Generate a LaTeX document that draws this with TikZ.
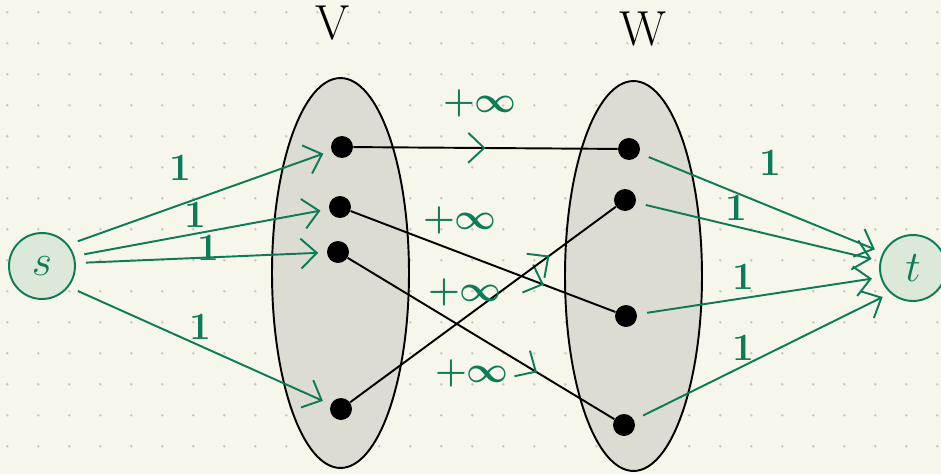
\documentclass[tikz,border=0pt]{standalone}
\usepackage{tikz}
\usetikzlibrary{arrows.meta, positioning, calc, shapes.geometric, decorations.markings}
\definecolor{paper}{HTML}{F7F6EA}
\definecolor{dotgray}{HTML}{C9C9C1}
\definecolor{setgray}{HTML}{DCDCD2}
\definecolor{ink}{HTML}{0E7A57}
\definecolor{inkfill}{HTML}{DCE8D8}
\tikzset{
    term/.style={circle, draw=ink, line width=1.1pt, fill=inkfill, minimum size=1.32cm, inner sep=0pt, text=ink, font=\fontsize{32}{32}\selectfont},
    part/.style={ellipse, draw=black, line width=1.1pt, fill=setgray, minimum width=2.74cm, minimum height=7.8cm, inner sep=0pt},
    vert/.style={circle, fill=black, inner sep=0pt, minimum size=0.44cm},
    capedge/.style={->, >={Straight Barb[length=9pt, width=17pt]}, ink, line width=1.1pt, shorten <=0.2cm, shorten >=0.17cm},
    flow/.style={line width=1.1pt, black, postaction={decorate}, decoration={markings, mark=at position #1 with {\arrow[ink, line width=1.1pt]{Straight Barb[length=9pt, width=17pt]}}}},
    wt/.style={text=ink, font=\fontsize{22}{22}\selectfont\bfseries},
    inf/.style={text=ink, font=\fontsize{21}{21}\selectfont\boldmath},
    setname/.style={font=\fontsize{28}{28}\selectfont}
}
\begin{document}
\begin{tikzpicture}[x=0.02cm, y=-0.02cm]
    \path[use as bounding box, fill=paper] (0,0) rectangle (941,474);
    \foreach \i in {0,...,30} \foreach \j in {0,...,14} \fill[dotgray] (7.3+31*\i, 12.3+31*\j) circle (0.8pt);
    \node[part] (setV) at (340.5,273) {};
    \node[part] (setW) at (633.5,276) {};
    \node[setname] (nameV) at (333,23) {V};
    \node[setname] (nameW) at (643,29) {W};
    \node[term] (s) at (42,266) {$s$};
    \node[term] (t) at (913,268) {$t$};
    \node[vert] (v1) at (342,147) {};
    \node[vert] (v2) at (340,207) {};
    \node[vert] (v3) at (338,252) {};
    \node[vert] (v4) at (341,409) {};
    \node[vert] (w1) at (629,149) {};
    \node[vert] (w2) at (625,200) {};
    \node[vert] (w3) at (626,316) {};
    \node[vert] (w4) at (624,425) {};
    \draw[flow=0.5] (v1) -- (w1);
    \draw[flow=0.73] (v2) -- (w3);
    \draw[flow=0.71] (v3) -- (w4);
    \draw[flow=0.75] (v4) -- (w2);
    \foreach \v/\a in {v1/39, v2/17, v3/5, v4/-38} \draw[capedge] (s.\a) -- (\v);
    \foreach \w/\a in {w1/153, w2/168, w3/196, w4/228} \draw[capedge] (\w) -- (t.\a);
    \node[wt] (c1) at (180,168) {1};
    \node[wt] (c2) at (195,215) {1};
    \node[wt] (c3) at (208,248) {1};
    \node[wt] (c4) at (200,327) {1};
    \node[wt] (d1) at (770,163) {1};
    \node[wt] (d2) at (736,208) {1};
    \node[wt] (d3) at (743,277) {1};
    \node[wt] (d4) at (743,348) {1};
    \node[inf] (i1) at (480,103) {$+\infty$};
    \node[inf] (i2) at (460,220) {$+\infty$};
    \node[inf] (i3) at (465,292) {$+\infty$};
    \node[inf] (i4) at (472,373) {$+\infty$};
\end{tikzpicture}
\end{document}
